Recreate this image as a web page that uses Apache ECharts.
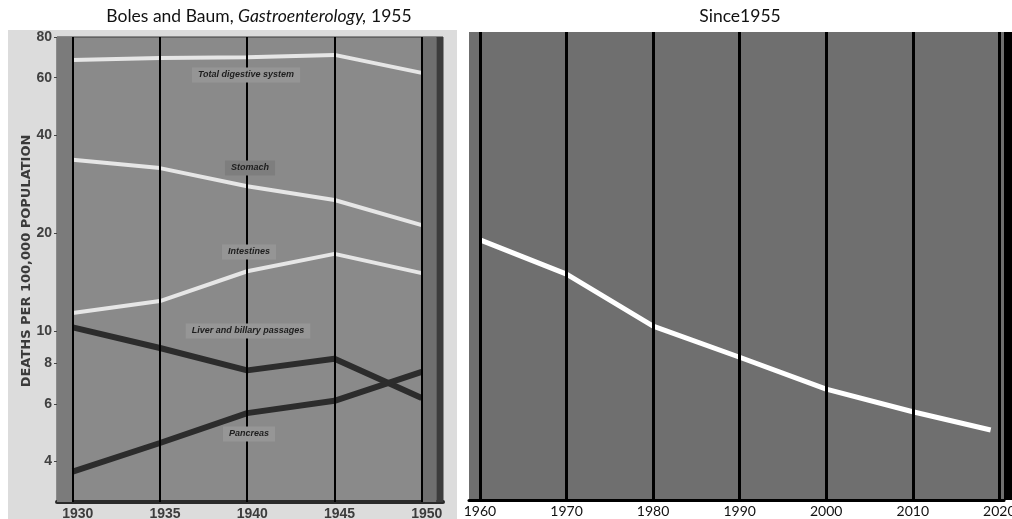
<!DOCTYPE html>
<html><head><meta charset="utf-8">
<script src="https://cdn.jsdelivr.net/npm/echarts@6/dist/echarts.min.js"></script>
<style>html,body{margin:0;padding:0;background:#fff}#c{width:1012px;height:519px}</style>
</head><body><div id="c"></div>
<script>
// ---- data ----
const leftYears = [1930, 1935, 1940, 1945, 1950];
const totalDigestive = [68.0, 69.0, 69.4, 70.5, 62.1];
const stomach = [33.6, 31.7, 27.9, 25.3, 21.2];
const intestines = [11.4, 12.4, 15.3, 17.3, 15.1];
const liver = [10.3, 8.9, 7.6, 8.25, 6.25];
const pancreas = [3.72, 4.55, 5.62, 6.13, 7.52];
const leftYTicks = [4, 6, 8, 10, 20, 40, 60, 80];
const rightYears = [1960, 1970, 1980, 1990, 2000, 2010, 2019];
const rightValues = [19.0, 14.9, 10.3, 8.26, 6.59, 5.61, 4.93];
const rightXTicks = [1960, 1970, 1980, 1990, 2000, 2010, 2020];
const seriesNames = ['Total digestive system', 'Stomach', 'Intestines', 'Liver and billary passages', 'Pancreas'];

const zip = (xs, ys) => xs.map((x, i) => [x, ys[i]]);
const plain = v => String(v);
const chart = echarts.init(document.getElementById('c'), null, {renderer: 'canvas'});

const lightLine = {color: '#e6e6e6', width: 4};
const darkLine = {color: '#2c2c2c', width: 6};
function dataSeries(name, values, style) {
  return {name, type: 'line', xAxisIndex: 0, yAxisIndex: 0, data: zip(leftYears, values),
    symbol: 'none', lineStyle: style, z: 4, animation: false, silent: true};
}
const annFont = 'italic bold 9px "Liberation Sans"';
function ann(text, x, y, bg) {
  return {type: 'text', x, y, z: 6, silent: true,
    style: {text, font: annFont, fill: '#1e1e1e', align: 'center', verticalAlign: 'middle',
      backgroundColor: bg, padding: [3, 6]}};
}

const option = {
  animation: false,
  grid: [
    {left: 57, top: 37, width: 386, height: 465, show: true, backgroundColor: '#8a8a8a', borderColor: '#3a3a3a', borderWidth: 1, containLabel: false, outerBoundsMode: 'none'},
    {left: 469, top: 32, width: 535, height: 468, show: true, backgroundColor: '#6f6f6f', borderWidth: 0, containLabel: false, outerBoundsMode: 'none'}
  ],
  xAxis: [
    {gridIndex: 0, type: 'value', min: 1929.1, max: 1951.22,
      axisLine: {show: true, onZero: false, lineStyle: {color: '#2a2a2a', width: 4}},
      axisTick: {show: false}, splitLine: {show: false},
      axisLabel: {customValues: leftYears, formatter: plain, color: '#3c3c3c', fontFamily: 'Liberation Sans', fontWeight: 'bold', fontSize: 14, margin: 5, padding: [0, 0, 0, 10]}},
    {gridIndex: 1, type: 'value', min: 1958.73, max: 2020.54,
      axisLine: {show: true, onZero: false, lineStyle: {color: '#000', width: 3}},
      axisTick: {show: false}, splitLine: {show: false},
      axisLabel: {customValues: rightXTicks, formatter: plain, color: '#111', fontFamily: 'Lato', fontSize: 14, margin: 4}}
  ],
  yAxis: [
    {gridIndex: 0, type: 'log', logBase: 10, min: 3, max: 80,
      axisLine: {show: false}, splitLine: {show: false},
      axisTick: {show: true, customValues: leftYTicks, length: 3, lineStyle: {color: '#444'}},
      axisLabel: {customValues: leftYTicks, formatter: plain, color: '#404040', fontFamily: 'Liberation Sans', fontWeight: 'bold', fontSize: 14, margin: 5}},
    {gridIndex: 1, type: 'log', logBase: 10, min: 3, max: 83, show: false}
  ],
  series: [
    {type: 'line', xAxisIndex: 0, yAxisIndex: 0, data: [], z: 1, silent: true,
      markArea: {silent: true, data: [
        [{xAxis: 1929.1, itemStyle: {color: '#7b7b7b'}}, {xAxis: 1930}],
        [{xAxis: 1950, itemStyle: {color: '#6f6f6f'}}, {xAxis: 1950.85}],
        [{xAxis: 1950.85, itemStyle: {color: '#3c3c3c'}}, {xAxis: 1951.22}]
      ]}},
    dataSeries(seriesNames[0], totalDigestive, lightLine),
    dataSeries(seriesNames[1], stomach, lightLine),
    dataSeries(seriesNames[2], intestines, lightLine),
    dataSeries(seriesNames[3], liver, darkLine),
    dataSeries(seriesNames[4], pancreas, darkLine),
    {type: 'line', xAxisIndex: 0, yAxisIndex: 0, data: [], z: 10, silent: true,
      markLine: {silent: true, symbol: ['none', 'none'], label: {show: false},
        lineStyle: {color: '#000', width: 2, type: 'solid'},
        data: leftYears.map(y => ({xAxis: y}))}},
    {name: 'Since 1955', type: 'line', xAxisIndex: 1, yAxisIndex: 1, data: zip(rightYears, rightValues),
      symbol: 'none', lineStyle: {color: '#ffffff', width: 5}, z: 4, silent: true},
    {type: 'line', xAxisIndex: 1, yAxisIndex: 1, data: [], z: 10, silent: true,
      markLine: {silent: true, symbol: ['none', 'none'], label: {show: false},
        lineStyle: {color: '#000', width: 3, type: 'solid'},
        data: rightXTicks.map(y => ({xAxis: y}))}}
  ],
  graphic: [
    {type: 'rect', z: -100, silent: true, shape: {x: 8, y: 30, width: 449, height: 489}, style: {fill: '#dcdcdc'}},
    {type: 'rect', z: 11, silent: true, shape: {x: 1004, y: 32, width: 8, height: 468}, style: {fill: '#000'}},
    {type: 'text', x: 259, y: 16, silent: true,
      style: {text: '{a|Boles and Baum, }{b|Gastroenterology,}{a| 1955}', align: 'center', verticalAlign: 'middle',
        rich: {a: {font: '17.5px Lato', fill: '#111'}, b: {font: 'italic 17.5px Lato', fill: '#111'}}}},
    {type: 'text', x: 740, y: 16, silent: true,
      style: {text: 'Since1955', font: '17.5px Lato', fill: '#111', align: 'center', verticalAlign: 'middle'}},
    {type: 'text', x: 27, y: 261, rotation: Math.PI / 2, silent: true,
      style: {text: 'DEATHS PER 100,000 POPULATION', font: 'bold 13px "DejaVu Sans"', fill: '#3a3a3a', align: 'center', verticalAlign: 'middle'}},
    ann(seriesNames[0], 246, 75, '#959595'),
    ann(seriesNames[1], 250, 168, '#7e7e7e'),
    ann(seriesNames[2], 249, 252, '#959595'),
    ann(seriesNames[3], 248, 331, '#969696'),
    ann(seriesNames[4], 249, 434, '#969696')
  ]
};
chart.setOption(option);
</script>
</body></html>
